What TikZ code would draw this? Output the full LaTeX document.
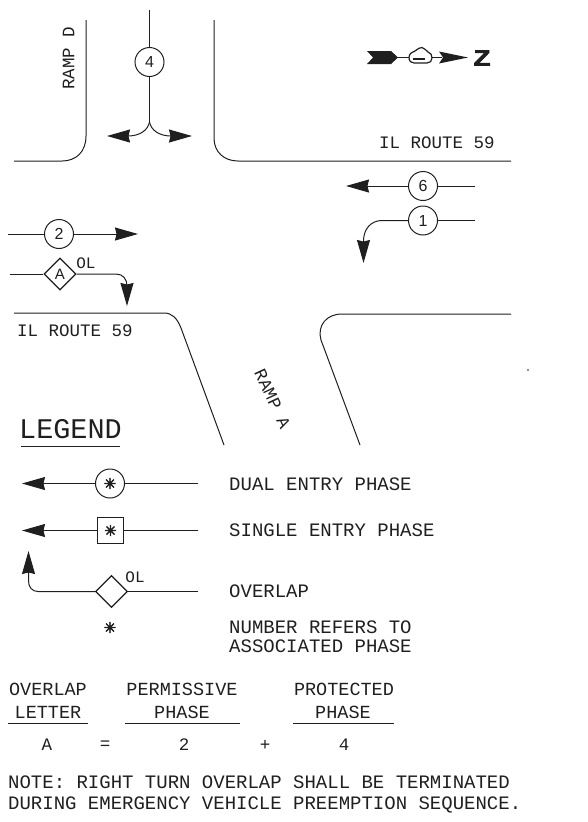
\documentclass[tikz,border=0pt]{standalone}
\usepackage{fontspec}
\usetikzlibrary{arrows.meta,shapes.geometric}
\setmainfont{Liberation Sans}
\newfontfamily\cadfont{Liberation Mono}
\newfontfamily\symfont[FakeBold=2.5]{DejaVu Sans}
\newfontfamily\zfont[FakeBold=3]{Liberation Sans Bold}
\definecolor{ink}{gray}{0.12}
\tikzset{
  x=1pt,y=-1pt,
  road/.style={draw=ink,line width=1pt},
  phasearrow/.style={draw=ink,line width=1pt,-{Stealth[length=23pt,width=13pt,inset=1.5pt]}},
  plainline/.style={draw=ink,line width=1pt},
  circ/.style={circle,draw=ink,line width=1pt,fill=white,minimum size=29pt,inner sep=0pt,font=\fontsize{16}{16}\selectfont,text=ink},
  dia/.style={diamond,draw=ink,line width=1.2pt,fill=white,minimum size=32pt,inner sep=0pt,font=\fontsize{15}{15}\selectfont,text=ink},
  sqr/.style={rectangle,draw=ink,line width=1pt,fill=white,minimum size=26pt,inner sep=0pt,text=ink},
  txt/.style={inner sep=0pt,text=ink,font=\cadfont\fontsize{19}{19}\selectfont},
  lab/.style={inner sep=0pt,text=ink,font=\cadfont\fontsize{17.5}{17.5}\selectfont},
  tab/.style={inner sep=0pt,text=ink,font=\cadfont\fontsize{18.5}{18.5}\selectfont},
  small/.style={inner sep=0pt,text=ink,font=\cadfont\fontsize{16}{16}\selectfont},
  star/.style={inner sep=0pt,text=ink,font=\symfont\fontsize{15}{15}\selectfont},
}
\begin{document}
\begin{tikzpicture}
\useasboundingbox (0,0) rectangle (587,822);
% roads
\draw[road] (86,20) -- (86,136) .. controls (86,152) and (76,161) .. (62,161) -- (14,161);
\draw[road] (214,20) -- (214,138) .. controls (214,152) and (224,161) .. (238,161) -- (511,161);
\draw[road] (14,313) -- (164,313) .. controls (172,313) and (177,318) .. (181,328) -- (224,445);
\draw[road] (511,314) -- (342,314) .. controls (326,314) and (317,326) .. (321,340) -- (360,445);
\fill[ink] (528,370) circle (0.9pt);
% labels
\node[lab,rotate=90] (rampd) at (68.5,58) {RAMP D};
\node[lab] (r59a) at (437,143) {IL ROUTE 59};
\node[lab] (r59b) at (75,331) {IL ROUTE 59};
\node[lab,rotate=-65] (rampa) at (272.5,399) {RAMP A};
% phase 4
\coordinate (t4) at (149.5,10);
\coordinate (s4) at (149.5,122);
\coordinate (l4) at (107,136);
\coordinate (r4) at (192,136);
\node[circ] (n4) at (149.5,62) {4};
\draw[plainline] (t4) -- (n4);
\draw[plainline] (n4) -- (s4);
\draw[phasearrow] (s4) .. controls (148,130) and (140,136) .. (128,136) -- (l4);
\draw[phasearrow] (s4) .. controls (151,130) and (159,136) .. (171,136) -- (r4);
% phase 2
\coordinate (a2) at (8,234);
\coordinate (b2) at (138,234);
\node[circ] (n2) at (59,234) {2};
\draw[plainline] (a2) -- (n2);
\draw[phasearrow] (n2) -- (b2);
% overlap A
\coordinate (aA) at (10,274);
\coordinate (bA) at (127,306);
\node[dia] (nA) at (60,274) {A};
\node[small] (olA) at (86,263) {OL};
\draw[plainline] (aA) -- (nA);
\draw[phasearrow] (nA) -- (116,274) .. controls (123,274) and (127,279) .. (127,286) -- (bA);
% phase 6
\coordinate (a6) at (475,186);
\coordinate (b6) at (346,186);
\node[circ] (n6) at (423,186) {6};
\draw[plainline] (a6) -- (n6);
\draw[phasearrow] (n6) -- (b6);
% phase 1
\coordinate (a1) at (475,220.5);
\coordinate (b1) at (363.5,263);
\node[circ] (n1) at (423,220.5) {1};
\draw[plainline] (a1) -- (n1);
\draw[phasearrow] (n1) -- (382,220.5) .. controls (371,220.5) and (363.5,229) .. (363.5,241) -- (b1);
% north arrow
\fill[ink] (367,51) -- (391,51) -- (398,57.5) -- (391,64) -- (367,64) -- (373,57.5) -- cycle;
\draw[ink,line width=1pt] (396,57.5) -- (409,57.5);
\draw[ink,line width=1.2pt,fill=white] (409,57.5) .. controls (409,53) and (413,52) .. (415,51) .. controls (418,49) and (420,47) .. (422,47.5) .. controls (425,48) and (426,51) .. (428,52) .. controls (431,53) and (432,55) .. (432,58) .. controls (432,61) and (430,63) .. (427,63) -- (414,63) .. controls (411,63) and (409,61) .. (409,57.5) -- cycle;
\draw[ink,line width=1.6pt] (413,59) -- (425,59);
\draw[ink,line width=1pt] (432,57.5) -- (442,57.5);
\fill[ink] (439,51.5) -- (468,57.5) -- (439,63.5) -- (443,57.5) -- cycle;
\node[inner sep=0pt,text=ink,font=\zfont\fontsize{22}{22}\selectfont,xscale=1.25] (north) at (482,58) {Z};
% legend
\node[inner sep=0pt,text=ink,font=\cadfont\fontsize{28.5}{28.5}\selectfont] (legend) at (70.5,429) {LEGEND};
\coordinate (lg1) at (21,446);
\coordinate (lg2) at (120,446);
\draw[plainline] (lg1) -- (lg2);
% dual
\coordinate (ad) at (198,483.5);
\coordinate (bd) at (22,483.5);
\node[circ] (nd) at (110,483.5) {};
\node[star] (sd) at (110,483.5) {✳};
\draw[plainline] (ad) -- (nd);
\draw[phasearrow] (nd) -- (bd);
\node[txt,anchor=west] (td) at (229,484) {DUAL ENTRY PHASE};
% single
\coordinate (as) at (198,530.5);
\coordinate (bs) at (22,530.5);
\node[sqr] (ns) at (110.5,530.5) {};
\node[star] (ss) at (110.5,530.5) {✳};
\draw[plainline] (as) -- (ns);
\draw[phasearrow] (ns) -- (bs);
\node[txt,anchor=west] (ts) at (229,530.5) {SINGLE ENTRY PHASE};
% overlap
\coordinate (ao) at (198,591.5);
\coordinate (bo) at (28.5,551);
\node[dia] (no) at (111.5,591.5) {};
\node[small] (olo) at (135,577.5) {OL};
\draw[plainline] (ao) -- (no);
\draw[phasearrow] (no) -- (38,591.5) .. controls (32,591.5) and (28.5,587) .. (28.5,581) -- (bo);
\node[txt,anchor=west] (to) at (229,591.5) {OVERLAP};
\node[star] (st) at (110,627.5) {✳};
\node[txt,anchor=west] (tn1) at (229,627) {NUMBER REFERS TO};
\node[txt,anchor=west] (tn2) at (229,646) {ASSOCIATED PHASE};
% table
\node[tab] (h1a) at (48,689.5) {OVERLAP};
\node[tab] (h1b) at (48,712) {LETTER};
\node[tab] (h2a) at (182,689.5) {PERMISSIVE};
\node[tab] (h2b) at (182,712) {PHASE};
\node[tab] (h3a) at (344,689.5) {PROTECTED};
\node[tab] (h3b) at (343,712) {PHASE};
\coordinate (u1a) at (8,723.5);
\coordinate (u1b) at (88,723.5);
\coordinate (u2a) at (125,723.5);
\coordinate (u2b) at (240,723.5);
\coordinate (u3a) at (293,723.5);
\coordinate (u3b) at (394,723.5);
\draw[plainline] (u1a) -- (u1b);
\draw[plainline] (u2a) -- (u2b);
\draw[plainline] (u3a) -- (u3b);
\node[lab] (va) at (47,745) {A};
\node[lab] (ve) at (105,745) {=};
\node[lab] (v2) at (184,745) {2};
\node[lab] (vp) at (265,745) {+};
\node[lab] (v4) at (344,745) {4};
% note
\node[txt,anchor=west] (n1t) at (8,782) {NOTE: RIGHT TURN OVERLAP SHALL BE TERMINATED};
\node[txt,anchor=west] (n2t) at (8,805) {DURING EMERGENCY VEHICLE PREEMPTION SEQUENCE.};
\end{tikzpicture}
\end{document}
